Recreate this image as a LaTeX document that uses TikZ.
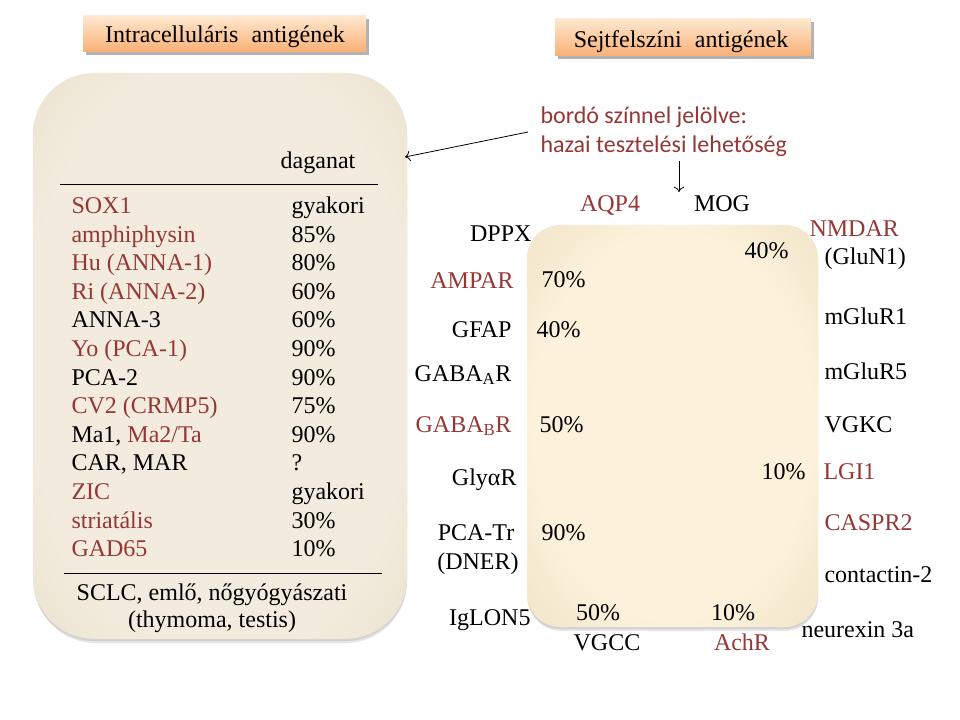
\documentclass[tikz,border=0pt]{standalone}
\usepackage{fontspec}
\setmainfont{Liberation Serif}
\newfontfamily\calibrifont{Carlito}
\usetikzlibrary{arrows.meta,shadows}
\definecolor{bordo}{RGB}{149,55,53}
\definecolor{lpc}{RGB}{243,236,222}
\definecolor{lpe}{RGB}{212,201,166}
\colorlet{lpm}{lpc!55!lpe}
\definecolor{rpc}{RGB}{252,241,218}
\definecolor{rpe}{RGB}{214,203,163}
\colorlet{rpm}{rpc!55!rpe}
\pgfdeclareradialshading{leftpanelshade}{\pgfpointorigin}{color(0bp)=(lpc); color(26bp)=(lpc); color(42bp)=(lpm); color(50bp)=(lpe); color(75bp)=(lpe)}
\pgfdeclareradialshading{rightpanelshade}{\pgfpointorigin}{color(0bp)=(rpc); color(24bp)=(rpc); color(41bp)=(rpm); color(50bp)=(rpe); color(75bp)=(rpe)}

\tikzset{every picture/.style={line width=0.75pt}}
\tikzset{
  txt/.style={inner sep=0.75pt, font=\fontsize{18}{21.6}\selectfont},
  redtxt/.style={txt, text=bordo},
  notetxt/.style={inner sep=0.75pt, font=\calibrifont\fontsize{18}{21.75}\selectfont, text=bordo, align=left},
  headbox/.style={top color={rgb, 255:red, 254; green, 232; blue, 208 }, bottom color={rgb, 255:red, 249; green, 176; blue, 116 },
    drop shadow={shadow xshift=2pt, shadow yshift=-2pt, opacity=0.5, fill=black!60}},
  panelshadow/.style={fill=black!55, opacity=0.18},
  thinarrow/.style={line width=0.6pt, -{To[length=4pt,width=8pt]}}
}

\begin{document}
\begin{tikzpicture}[x=0.75pt,y=0.75pt,yscale=-1,xscale=1]
\useasboundingbox (0,0) rectangle (960,720);

%Rounded Rect: intracellular panel
\fill [panelshadow, rounded corners=46pt] (34,76) rectangle (407,643);
\fill [panelshadow, rounded corners=46pt] (33,74) rectangle (407,641);
\shade [shading=leftpanelshade, rounded corners=46pt] (33,73) rectangle (407,639);
%Rounded Rect: surface panel
\fill [panelshadow, rounded corners=25pt] (528,228) rectangle (818,631);
\fill [panelshadow, rounded corners=25pt] (527,226) rectangle (818,629);
\shade [shading=rightpanelshade, rounded corners=25pt] (527,225) rectangle (818,627);

%Header boxes
\shade [headbox] (83,16) rectangle (366,52);
\node [txt, anchor=base] (hdintra) at (225,43) {Intracelluláris\hspace{0.3em} antigének};
\shade [headbox] (555,19) rectangle (811,56);
\node [txt, anchor=base] (hdsurf) at (681,48) {Sejtfelszíni\hspace{0.3em} antigének};

%Table of intracellular antigens
\node [txt, anchor=base] (tumour) at (318,169) {daganat};
\draw (60,185) -- (378,185) ;
\node [redtxt, anchor=base west] (sox) at (70,213.5) {SOX1};
\node [txt, anchor=base west] (soxv) at (290,213.5) {gyakori};
\node [redtxt, anchor=base west] (amphi) at (70,242.1) {amphiphysin};
\node [txt, anchor=base west] (amphiv) at (290,242.1) {85\%};
\node [redtxt, anchor=base west] (hu) at (70,270.7) {Hu (ANNA-1)};
\node [txt, anchor=base west] (huv) at (290,270.7) {80\%};
\node [redtxt, anchor=base west] (ri) at (70,299.3) {Ri (ANNA-2)};
\node [txt, anchor=base west] (riv) at (290,299.3) {60\%};
\node [txt, anchor=base west] (anna) at (70,327.9) {ANNA-3};
\node [txt, anchor=base west] (annav) at (290,327.9) {60\%};
\node [redtxt, anchor=base west] (yo) at (70,356.5) {Yo (PCA-1)};
\node [txt, anchor=base west] (yov) at (290,356.5) {90\%};
\node [txt, anchor=base west] (pca) at (70,385.1) {PCA-2};
\node [txt, anchor=base west] (pcav) at (290,385.1) {90\%};
\node [redtxt, anchor=base west] (cv) at (70,413.7) {CV2 (CRMP5)};
\node [txt, anchor=base west] (cvv) at (290,413.7) {75\%};
\node [txt, anchor=base west] (ma) at (70,442.3) {Ma1, \textcolor{bordo}{Ma2/Ta}};
\node [txt, anchor=base west] (mav) at (290,442.3) {90\%};
\node [txt, anchor=base west] (car) at (70,470.9) {CAR, MAR};
\node [txt, anchor=base west] (carv) at (290,470.9) {?};
\node [redtxt, anchor=base west] (zic) at (70,499.5) {ZIC};
\node [txt, anchor=base west] (zicv) at (290,499.5) {gyakori};
\node [redtxt, anchor=base west] (striat) at (70,528.1) {striatális};
\node [txt, anchor=base west] (striatv) at (290,528.1) {30\%};
\node [redtxt, anchor=base west] (gad) at (70,556.7) {GAD65};
\node [txt, anchor=base west] (gadv) at (290,556.7) {10\%};
\draw (64,573) -- (382,573) ;
\node [txt, anchor=base] (tumours) at (212,600) {SCLC, emlő, nőgyógyászati};
\node [txt, anchor=base] (tumoursb) at (212,627) {(thymoma, testis)};

%Note and arrows
\node [notetxt, anchor=west, inner xsep=9pt, inner ysep=3pt] (note) at (528,132) {bordó színnel jelölve:\\hazai tesztelési lehetőség};
\coordinate (leftmark) at (405,157);
\coordinate (downmark) at (679,192);
\draw [thinarrow] (note.west) -- (leftmark) ;
\draw [thinarrow] (note.south -| downmark) -- (downmark) ;

%Surface antigens
\node [redtxt, anchor=base] (aqp) at (610,212) {AQP4};
\node [txt, anchor=base] (mog) at (722,212) {MOG};
\node [txt, anchor=base east] (dppx) at (533,242) {DPPX};
\node [redtxt, anchor=base west] (nmdar) at (808,237) {NMDAR};
\node [txt, anchor=base west] (glun) at (823,265) {(GluN1)};
\node [txt, anchor=base east] (nmdarv) at (790,259) {40\%};
\node [redtxt, anchor=base east] (ampar) at (515,289) {AMPAR};
\node [txt, anchor=base west] (amparv) at (540,287) {70\%};
\node [txt, anchor=base east] (gfap) at (513,337) {GFAP};
\node [txt, anchor=base west] (gfapv) at (535,337) {40\%};
\node [txt, anchor=base east] (gabaa) at (513,381) {GABA\textsubscript{A}R};
\node [txt, anchor=base west] (mglua) at (823,325) {mGluR1};
\node [txt, anchor=base west] (mglub) at (823,379) {mGluR5};
\node [redtxt, anchor=base east] (gabab) at (513,432) {GABA\textsubscript{B}R};
\node [txt, anchor=base west] (gababv) at (538,432) {50\%};
\node [txt, anchor=base west] (vgkc) at (823,432) {VGKC};
\node [txt, anchor=base east] (glyr) at (518,485) {GlyαR};
\node [txt, anchor=base east] (lgiv) at (807,479) {10\%};
\node [redtxt, anchor=base west] (lgi) at (822,479) {LGI1};
\node [txt, anchor=base] (pcatr) at (476,540) {PCA-Tr};
\node [txt, anchor=base] (dner) at (478,569) {(DNER)};
\node [txt, anchor=base west] (pcatrv) at (540,540) {90\%};
\node [redtxt, anchor=base west] (caspr) at (823,530) {CASPR2};
\node [txt, anchor=base west] (cntn) at (823,582) {contactin-2};
\node [txt, anchor=base east] (iglon) at (532,625) {IgLON5};
\node [txt, anchor=base] (vgccv) at (598,620) {50\%};
\node [txt, anchor=base] (achrv) at (733,620) {10\%};
\node [txt, anchor=base west] (nrxn) at (800,637) {neurexin 3a};
\node [txt, anchor=base] (vgcc) at (607,650) {VGCC};
\node [redtxt, anchor=base] (achr) at (742,650) {AchR};

\end{tikzpicture}
\end{document}
